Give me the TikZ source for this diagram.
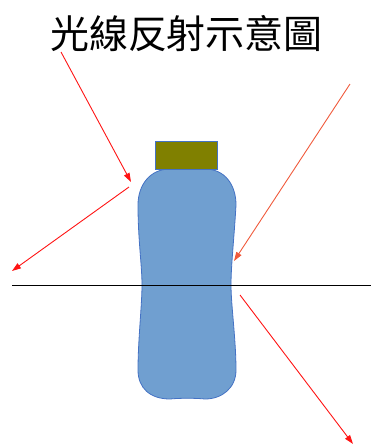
\documentclass[tikz,border=0pt]{standalone}
\usepackage{fontspec}
\newfontfamily\cjk{Noto Sans CJK TC}
\usetikzlibrary{arrows.meta}
\definecolor{bottleblue}{RGB}{112,159,208}
\definecolor{edgeblue}{RGB}{68,114,196}
\definecolor{capolive}{RGB}{128,128,0}
\definecolor{rayred}{RGB}{255,20,20}
\definecolor{rayorange}{RGB}{240,90,60}
\tikzset{
  ray/.style={line width=0.9pt, -{Triangle[length=9pt,width=6pt]}},
}
\begin{document}
\begin{tikzpicture}[x=1pt,y=-1pt]
      \useasboundingbox (0,0) rectangle (371,445);

      % Title
      \node[font=\cjk\fontsize{39}{42}\selectfont] (title) at (186.5,34) {光線反射示意圖};

      % Bottle body
      \draw[fill=bottleblue, draw=edgeblue, line width=0.8pt]
        (138,205) .. controls (138,185) and (150,169) .. (170,169)
        -- (205,169) .. controls (225,169) and (236,185) .. (236,205)
        .. controls (234,240) and (231,265) .. (231,285)
        .. controls (231,305) and (236,340) .. (236,370)
        .. controls (236,388) and (222,399) .. (205,399)
        .. controls (195,398) and (180,398) .. (170,399)
        .. controls (150,399) and (138,388) .. (138,370)
        .. controls (138,340) and (142,305) .. (142,285)
        .. controls (142,265) and (138,240) .. (138,205) -- cycle;

      % Bottle cap
      \draw[fill=capolive, draw=edgeblue, line width=0.8pt] (155,141) rectangle (217,169);

      % Water surface
      \draw[line width=0.9pt] (12,285) -- (371,285);

      % Ray end points
      \coordinate (inL) at (61,52);
      \coordinate (hitL) at (131,182);
      \coordinate (outL0) at (129,187);
      \coordinate (outL) at (12,271);
      \coordinate (inR) at (350,84);
      \coordinate (hitR) at (234,261);
      \coordinate (outR0) at (240,295);
      \coordinate (outR) at (353,444);

      % Incoming and reflected rays
      \draw[ray, rayred] (inL) -- (hitL);
      \draw[ray, rayred] (outL0) -- (outL);
      \draw[ray, rayorange] (inR) -- (hitR);
      \draw[ray, rayred] (outR0) -- (outR);
\end{tikzpicture}
\end{document}
